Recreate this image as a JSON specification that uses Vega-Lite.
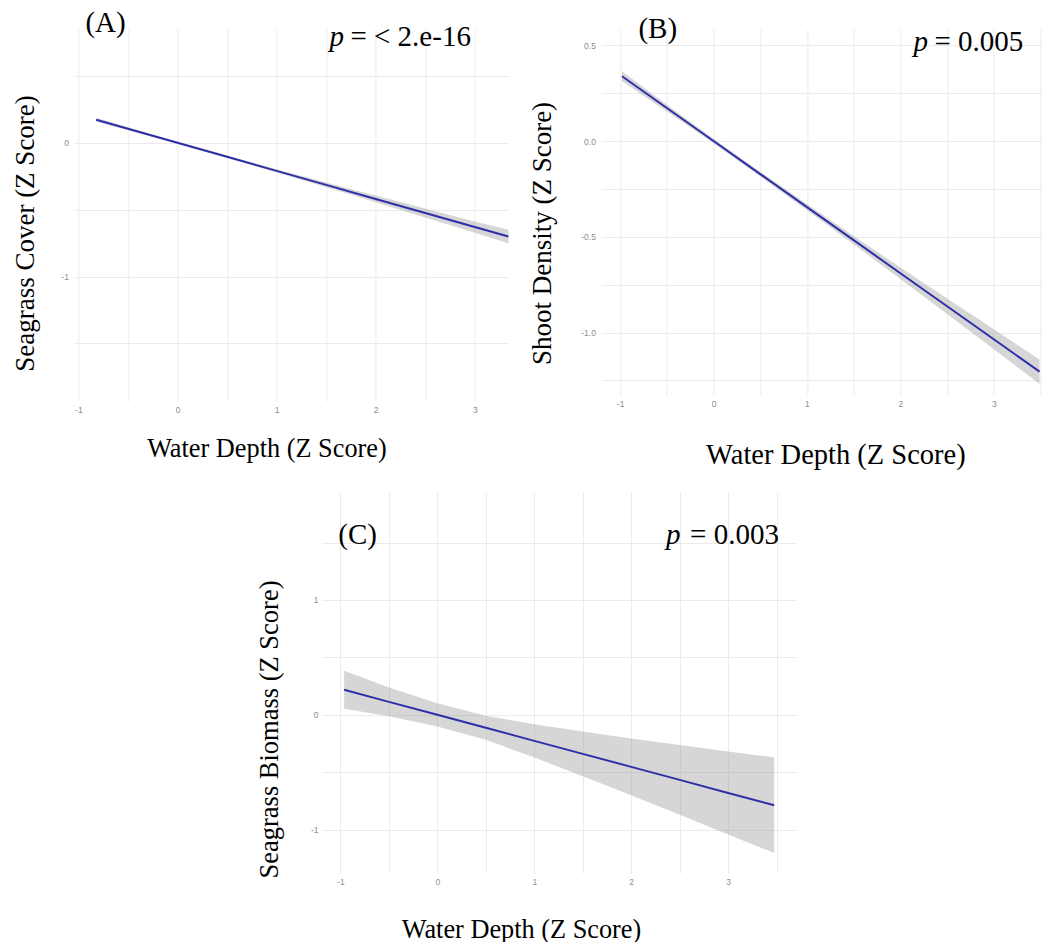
{
  "$schema": "https://vega.github.io/schema/vega-lite/v6.json",
  "background": "white",
  "padding": {"left": 11, "top": 8, "right": 5, "bottom": 5},
  "config": {
    "view": {"stroke": null},
    "axis": {
      "grid": true, "gridColor": "#ebebeb", "gridWidth": 1,
      "domain": false, "ticks": false, "labelOverlap": false,
      "labelFont": "Liberation Sans", "labelFontSize": 8.5, "labelColor": "#8c8c8c",
      "titleFont": "Liberation Serif", "titleFontSize": 26, "titleFontWeight": "normal", "titleColor": "#000000",
      "titleBaseline": "alphabetic"
    }
  },
  "datasets": {
    "fitA": [
      {"x": -0.82, "fit": 0.172, "lo": 0.157, "hi": 0.187},
      {"x": -0.5, "fit": 0.105, "lo": 0.094, "hi": 0.116},
      {"x": 0, "fit": 0.0, "lo": -0.008, "hi": 0.008},
      {"x": 0.5, "fit": -0.105, "lo": -0.114, "hi": -0.096},
      {"x": 1, "fit": -0.21, "lo": -0.222, "hi": -0.198},
      {"x": 1.5, "fit": -0.315, "lo": -0.333, "hi": -0.297},
      {"x": 2, "fit": -0.42, "lo": -0.445, "hi": -0.395},
      {"x": 2.5, "fit": -0.525, "lo": -0.558, "hi": -0.492},
      {"x": 3, "fit": -0.63, "lo": -0.672, "hi": -0.588},
      {"x": 3.34, "fit": -0.701, "lo": -0.751, "hi": -0.651}
    ],
    "fitB": [
      {"x": -0.98, "fit": 0.338, "lo": 0.312, "hi": 0.364},
      {"x": -0.5, "fit": 0.1725, "lo": 0.1555, "hi": 0.1895},
      {"x": 0, "fit": 0.0, "lo": -0.012, "hi": 0.012},
      {"x": 0.5, "fit": -0.1725, "lo": -0.1845, "hi": -0.1605},
      {"x": 1, "fit": -0.345, "lo": -0.361, "hi": -0.329},
      {"x": 1.5, "fit": -0.5175, "lo": -0.5395, "hi": -0.4955},
      {"x": 2, "fit": -0.69, "lo": -0.72, "hi": -0.66},
      {"x": 2.5, "fit": -0.8625, "lo": -0.9025, "hi": -0.8225},
      {"x": 3, "fit": -1.035, "lo": -1.087, "hi": -0.983},
      {"x": 3.49, "fit": -1.204, "lo": -1.268, "hi": -1.14}
    ],
    "fitC": [
      {"x": -0.962, "fit": 0.218, "lo": 0.053, "hi": 0.383},
      {"x": -0.5, "fit": 0.113, "lo": -0.012, "hi": 0.238},
      {"x": 0, "fit": 0.0, "lo": -0.101, "hi": 0.101},
      {"x": 0.5, "fit": -0.113, "lo": -0.217, "hi": -0.009},
      {"x": 1, "fit": -0.2265, "lo": -0.3715, "hi": -0.0815},
      {"x": 1.5, "fit": -0.34, "lo": -0.534, "hi": -0.146},
      {"x": 2, "fit": -0.453, "lo": -0.7, "hi": -0.206},
      {"x": 2.5, "fit": -0.566, "lo": -0.87, "hi": -0.262},
      {"x": 3, "fit": -0.68, "lo": -1.041, "hi": -0.319},
      {"x": 3.475, "fit": -0.787, "lo": -1.203, "hi": -0.371}
    ],
    "notes": [
      {"panel": "A", "kind": "normal", "x": -0.929, "y": 0.828, "label": "(A)"},
      {"panel": "A", "kind": "italic", "x": 1.533, "y": 0.723, "label": "p"},
      {"panel": "A", "kind": "normal", "x": 1.745, "y": 0.723, "label": "= < 2.e-16"},
      {"panel": "B", "kind": "normal", "x": -0.804, "y": 0.538, "label": "(B)"},
      {"panel": "B", "kind": "italic", "x": 2.14, "y": 0.47, "label": "p"},
      {"panel": "B", "kind": "normal", "x": 2.365, "y": 0.47, "label": "= 0.005"},
      {"panel": "C", "kind": "normal", "x": -1.022, "y": 1.487, "label": "(C)"},
      {"panel": "C", "kind": "italic", "x": 2.359, "y": 1.487, "label": "p"},
      {"panel": "C", "kind": "normal", "x": 2.607, "y": 1.487, "label": "= 0.003"}
    ]
  },
  "center": true,
  "spacing": 23,
  "vconcat": [
    {
      "bounds": "flush",
      "spacing": 93,
      "hconcat": [
        {
          "width": 434, "height": 372,
          "layer": [
            {
              "data": {"name": "fitA"},
              "mark": {"type": "area", "color": "#999999", "opacity": 0.4},
              "encoding": {
                "x": {"field": "x", "type": "quantitative", "scale": {"domain": [-1.04, 3.34], "nice": false, "zero": false},
                  "axis": {"values": [-1, -0.5, 0, 0.5, 1, 1.5, 2, 2.5, 3], "labelExpr": "datum.value % 1 == 0 ? '' + datum.value : ''", "labelPadding": 4, "titleX": 192, "titleY": 55, "titleFontSize": 26.3},
                  "title": "Water Depth (Z Score)"},
                "y": {"field": "lo", "type": "quantitative", "scale": {"domain": [-1.93, 0.85], "nice": false, "zero": false},
                  "axis": {"values": [-1.5, -1, -0.5, 0, 0.5], "labelExpr": "datum.value % 1 == 0 ? '' + datum.value : ''", "labelPadding": 6, "titleX": -41, "titleY": 204, "titleFontSize": 27},
                  "title": "Seagrass Cover (Z Score)"},
                "y2": {"field": "hi"}
              }
            },
            {
              "data": {"name": "fitA"},
              "mark": {"type": "line", "color": "#2e2ea8", "strokeWidth": 2},
              "encoding": {
                "x": {"field": "x", "type": "quantitative"},
                "y": {"field": "fit", "type": "quantitative"}
              }
            },
            {
              "data": {"name": "notes"},
              "transform": [{"filter": "datum.panel == 'A' && datum.kind == 'normal'"}],
              "mark": {"type": "text", "font": "Liberation Serif", "fontSize": 29, "align": "left", "baseline": "alphabetic", "color": "#000000"},
              "encoding": {
                "x": {"field": "x", "type": "quantitative"},
                "y": {"field": "y", "type": "quantitative"},
                "text": {"field": "label"}
              }
            },
            {
              "data": {"name": "notes"},
              "transform": [{"filter": "datum.panel == 'A' && datum.kind == 'italic'"}],
              "mark": {"type": "text", "font": "Liberation Serif", "fontStyle": "italic", "fontSize": 29, "align": "left", "baseline": "alphabetic", "color": "#000000"},
              "encoding": {
                "x": {"field": "x", "type": "quantitative"},
                "y": {"field": "y", "type": "quantitative"},
                "text": {"field": "label"}
              }
            }
          ]
        },
        {
          "width": 440, "height": 366,
          "layer": [
            {
              "data": {"name": "fitB"},
              "mark": {"type": "area", "color": "#999999", "opacity": 0.4},
              "encoding": {
                "x": {"field": "x", "type": "quantitative", "scale": {"domain": [-1.2, 3.51], "nice": false, "zero": false},
                  "axis": {"values": [-1, -0.5, 0, 0.5, 1, 1.5, 2, 2.5, 3, 3.5], "labelExpr": "datum.value % 1 == 0 ? '' + datum.value : ''", "labelPadding": 4, "titleX": 234, "titleY": 68, "titleFontSize": 28.5},
                  "title": "Water Depth (Z Score)"},
                "y": {"field": "lo", "type": "quantitative", "scale": {"domain": [-1.326, 0.585], "nice": false, "zero": false},
                  "axis": {"values": [-1.25, -1, -0.75, -0.5, -0.25, 0, 0.25, 0.5], "labelExpr": "datum.value % 0.5 == 0 ? replace(format(datum.value, '.1f'), '\u2212', '-') : ''", "labelPadding": 6, "titleX": -51, "titleY": 204, "titleFontSize": 27},
                  "title": "Shoot Density (Z Score)"},
                "y2": {"field": "hi"}
              }
            },
            {
              "data": {"name": "fitB"},
              "mark": {"type": "line", "color": "#2e2ea8", "strokeWidth": 2},
              "encoding": {
                "x": {"field": "x", "type": "quantitative"},
                "y": {"field": "fit", "type": "quantitative"}
              }
            },
            {
              "data": {"name": "notes"},
              "transform": [{"filter": "datum.panel == 'B' && datum.kind == 'normal'"}],
              "mark": {"type": "text", "font": "Liberation Serif", "fontSize": 29, "align": "left", "baseline": "alphabetic", "color": "#000000"},
              "encoding": {
                "x": {"field": "x", "type": "quantitative"},
                "y": {"field": "y", "type": "quantitative"},
                "text": {"field": "label"}
              }
            },
            {
              "data": {"name": "notes"},
              "transform": [{"filter": "datum.panel == 'B' && datum.kind == 'italic'"}],
              "mark": {"type": "text", "font": "Liberation Serif", "fontStyle": "italic", "fontSize": 29, "align": "left", "baseline": "alphabetic", "color": "#000000"},
              "encoding": {
                "x": {"field": "x", "type": "quantitative"},
                "y": {"field": "y", "type": "quantitative"},
                "text": {"field": "label"}
              }
            }
          ]
        }
      ]
    },
    {
      "width": 474, "height": 381,
      "layer": [
        {
          "data": {"name": "fitC"},
          "mark": {"type": "area", "color": "#999999", "opacity": 0.4},
          "encoding": {
            "x": {"field": "x", "type": "quantitative", "scale": {"domain": [-1.19, 3.7], "nice": false, "zero": false},
              "axis": {"values": [-1, -0.5, 0, 0.5, 1, 1.5, 2, 2.5, 3, 3.5], "labelExpr": "datum.value % 1 == 0 ? '' + datum.value : ''", "labelPadding": 4, "titleX": 199, "titleY": 64, "titleFontSize": 26.3},
              "title": "Water Depth (Z Score)"},
            "y": {"field": "lo", "type": "quantitative", "scale": {"domain": [-1.377, 1.94], "nice": false, "zero": false},
              "axis": {"values": [-1, -0.5, 0, 0.5, 1, 1.5], "labelExpr": "datum.value % 1 == 0 ? '' + datum.value : ''", "labelPadding": 4, "titleX": -45, "titleY": 237, "titleFontSize": 26.5},
              "title": "Seagrass Biomass (Z Score)"},
            "y2": {"field": "hi"}
          }
        },
        {
          "data": {"name": "fitC"},
          "mark": {"type": "line", "color": "#2e2ea8", "strokeWidth": 2},
          "encoding": {
            "x": {"field": "x", "type": "quantitative"},
            "y": {"field": "fit", "type": "quantitative"}
          }
        },
        {
          "data": {"name": "notes"},
          "transform": [{"filter": "datum.panel == 'C' && datum.kind == 'normal'"}],
          "mark": {"type": "text", "font": "Liberation Serif", "fontSize": 29, "align": "left", "baseline": "alphabetic", "color": "#000000"},
          "encoding": {
            "x": {"field": "x", "type": "quantitative"},
            "y": {"field": "y", "type": "quantitative"},
            "text": {"field": "label"}
          }
        },
        {
          "data": {"name": "notes"},
          "transform": [{"filter": "datum.panel == 'C' && datum.kind == 'italic'"}],
          "mark": {"type": "text", "font": "Liberation Serif", "fontStyle": "italic", "fontSize": 29, "align": "left", "baseline": "alphabetic", "color": "#000000"},
          "encoding": {
            "x": {"field": "x", "type": "quantitative"},
            "y": {"field": "y", "type": "quantitative"},
            "text": {"field": "label"}
          }
        }
      ]
    }
  ]
}
